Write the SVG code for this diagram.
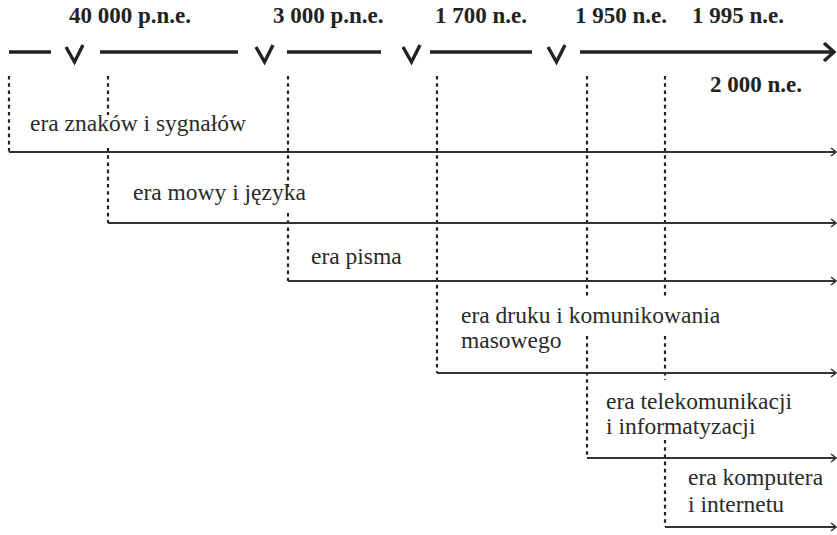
<svg xmlns="http://www.w3.org/2000/svg" width="837" height="535" viewBox="0 0 837 535" font-family="'Liberation Serif', 'DejaVu Serif', serif">
  <style>
    text { font-family: 'Liberation Serif', 'DejaVu Serif', serif; }
    .date { font-weight: bold; font-size: 23px; fill: #222; }
    .era { font-size: 23.5px; fill: #2a2a2a; }
    .axis { stroke: #222; stroke-width: 3.4; fill: none; }
    .brk { stroke: #222; stroke-width: 3.4; fill: none; stroke-linejoin: miter; }
    .span { stroke: #333; stroke-width: 2; fill: none; }
    .tick { stroke: #222; stroke-width: 2.2; fill: none; stroke-dasharray: 3.6 3.6; }
  </style>
  <defs>
    <marker id="head" viewBox="0 0 10 10" refX="9" refY="5" markerWidth="10" markerHeight="10" markerUnits="userSpaceOnUse" orient="auto">
      <path d="M4,1 L9,5 L4,9" fill="none" stroke="#333" stroke-width="1.6"/>
    </marker>
  </defs>

  <!-- main time axis with break marks -->
  <g id="axis">
    <line class="axis" x1="9" y1="52" x2="51" y2="52"/>
    <line class="axis" x1="100" y1="52" x2="238" y2="52"/>
    <line class="axis" x1="287" y1="52" x2="381" y2="52"/>
    <line class="axis" x1="430" y1="52" x2="532" y2="52"/>
    <line class="axis" x1="580" y1="52" x2="834" y2="52"/>
    <polyline class="axis" points="824,43 834,52 824,61"/>
    <polyline class="brk" points="66,47 74.5,62 83,45"/>
    <polyline class="brk" points="256,47 264.5,62 273,45"/>
    <polyline class="brk" points="403,47 411.5,62 420,45"/>
    <polyline class="brk" points="548,47 556.5,62 565,45"/>
  </g>

  <!-- dates -->
  <g id="dates">
    <text class="date" x="69" y="23">40 000 p.n.e.</text>
    <text class="date" x="273" y="23">3 000 p.n.e.</text>
    <text class="date" x="435" y="23">1 700 n.e.</text>
    <text class="date" x="575" y="23">1 950 n.e.</text>
    <text class="date" x="692" y="23">1 995 n.e.</text>
    <text class="date" x="710" y="92">2 000 n.e.</text>
  </g>

  <!-- era spans: dotted drop lines and arrows -->
  <g id="connectors">
    <line class="tick" x1="9" y1="76" x2="9" y2="152"/>
    <line class="tick" x1="108" y1="76" x2="108" y2="115"/>
    <line class="tick" x1="108" y1="148" x2="108" y2="223"/>
    <line class="tick" x1="288" y1="76" x2="288" y2="187"/>
    <line class="tick" x1="288" y1="213" x2="288" y2="281"/>
    <line class="tick" x1="437" y1="76" x2="437" y2="373"/>
    <line class="tick" x1="587" y1="76" x2="587" y2="298"/>
    <line class="tick" x1="587" y1="336" x2="587" y2="458"/>
    <line class="tick" x1="665" y1="76" x2="665" y2="298"/>
    <line class="tick" x1="665" y1="336" x2="665" y2="380"/>
    <line class="tick" x1="665" y1="440" x2="665" y2="527"/>

    <line class="span" x1="9" y1="152" x2="836" y2="152" marker-end="url(#head)"/>
    <line class="span" x1="108" y1="223" x2="836" y2="223" marker-end="url(#head)"/>
    <line class="span" x1="288" y1="281" x2="836" y2="281" marker-end="url(#head)"/>
    <line class="span" x1="437" y1="373" x2="836" y2="373" marker-end="url(#head)"/>
    <line class="span" x1="587" y1="458" x2="836" y2="458" marker-end="url(#head)"/>
    <line class="span" x1="665" y1="527" x2="836" y2="527" marker-end="url(#head)"/>
  </g>

  <g id="era-znakow">
    <text class="era" x="30" y="131">era znaków i sygnałów</text>
  </g>
  <g id="era-mowy">
    <text class="era" x="133" y="200">era mowy i języka</text>
  </g>
  <g id="era-pisma">
    <text class="era" x="311" y="264">era pisma</text>
  </g>
  <g id="era-druku">
    <text class="era" x="461" y="323">era druku i komunikowania</text>
    <text class="era" x="461" y="348">masowego</text>
  </g>
  <g id="era-telekomunikacji">
    <text class="era" x="606" y="409">era telekomunikacji</text>
    <text class="era" x="606" y="434">i informatyzacji</text>
  </g>
  <g id="era-komputera">
    <text class="era" x="688" y="485">era komputera</text>
    <text class="era" x="688" y="512">i internetu</text>
  </g>
</svg>
